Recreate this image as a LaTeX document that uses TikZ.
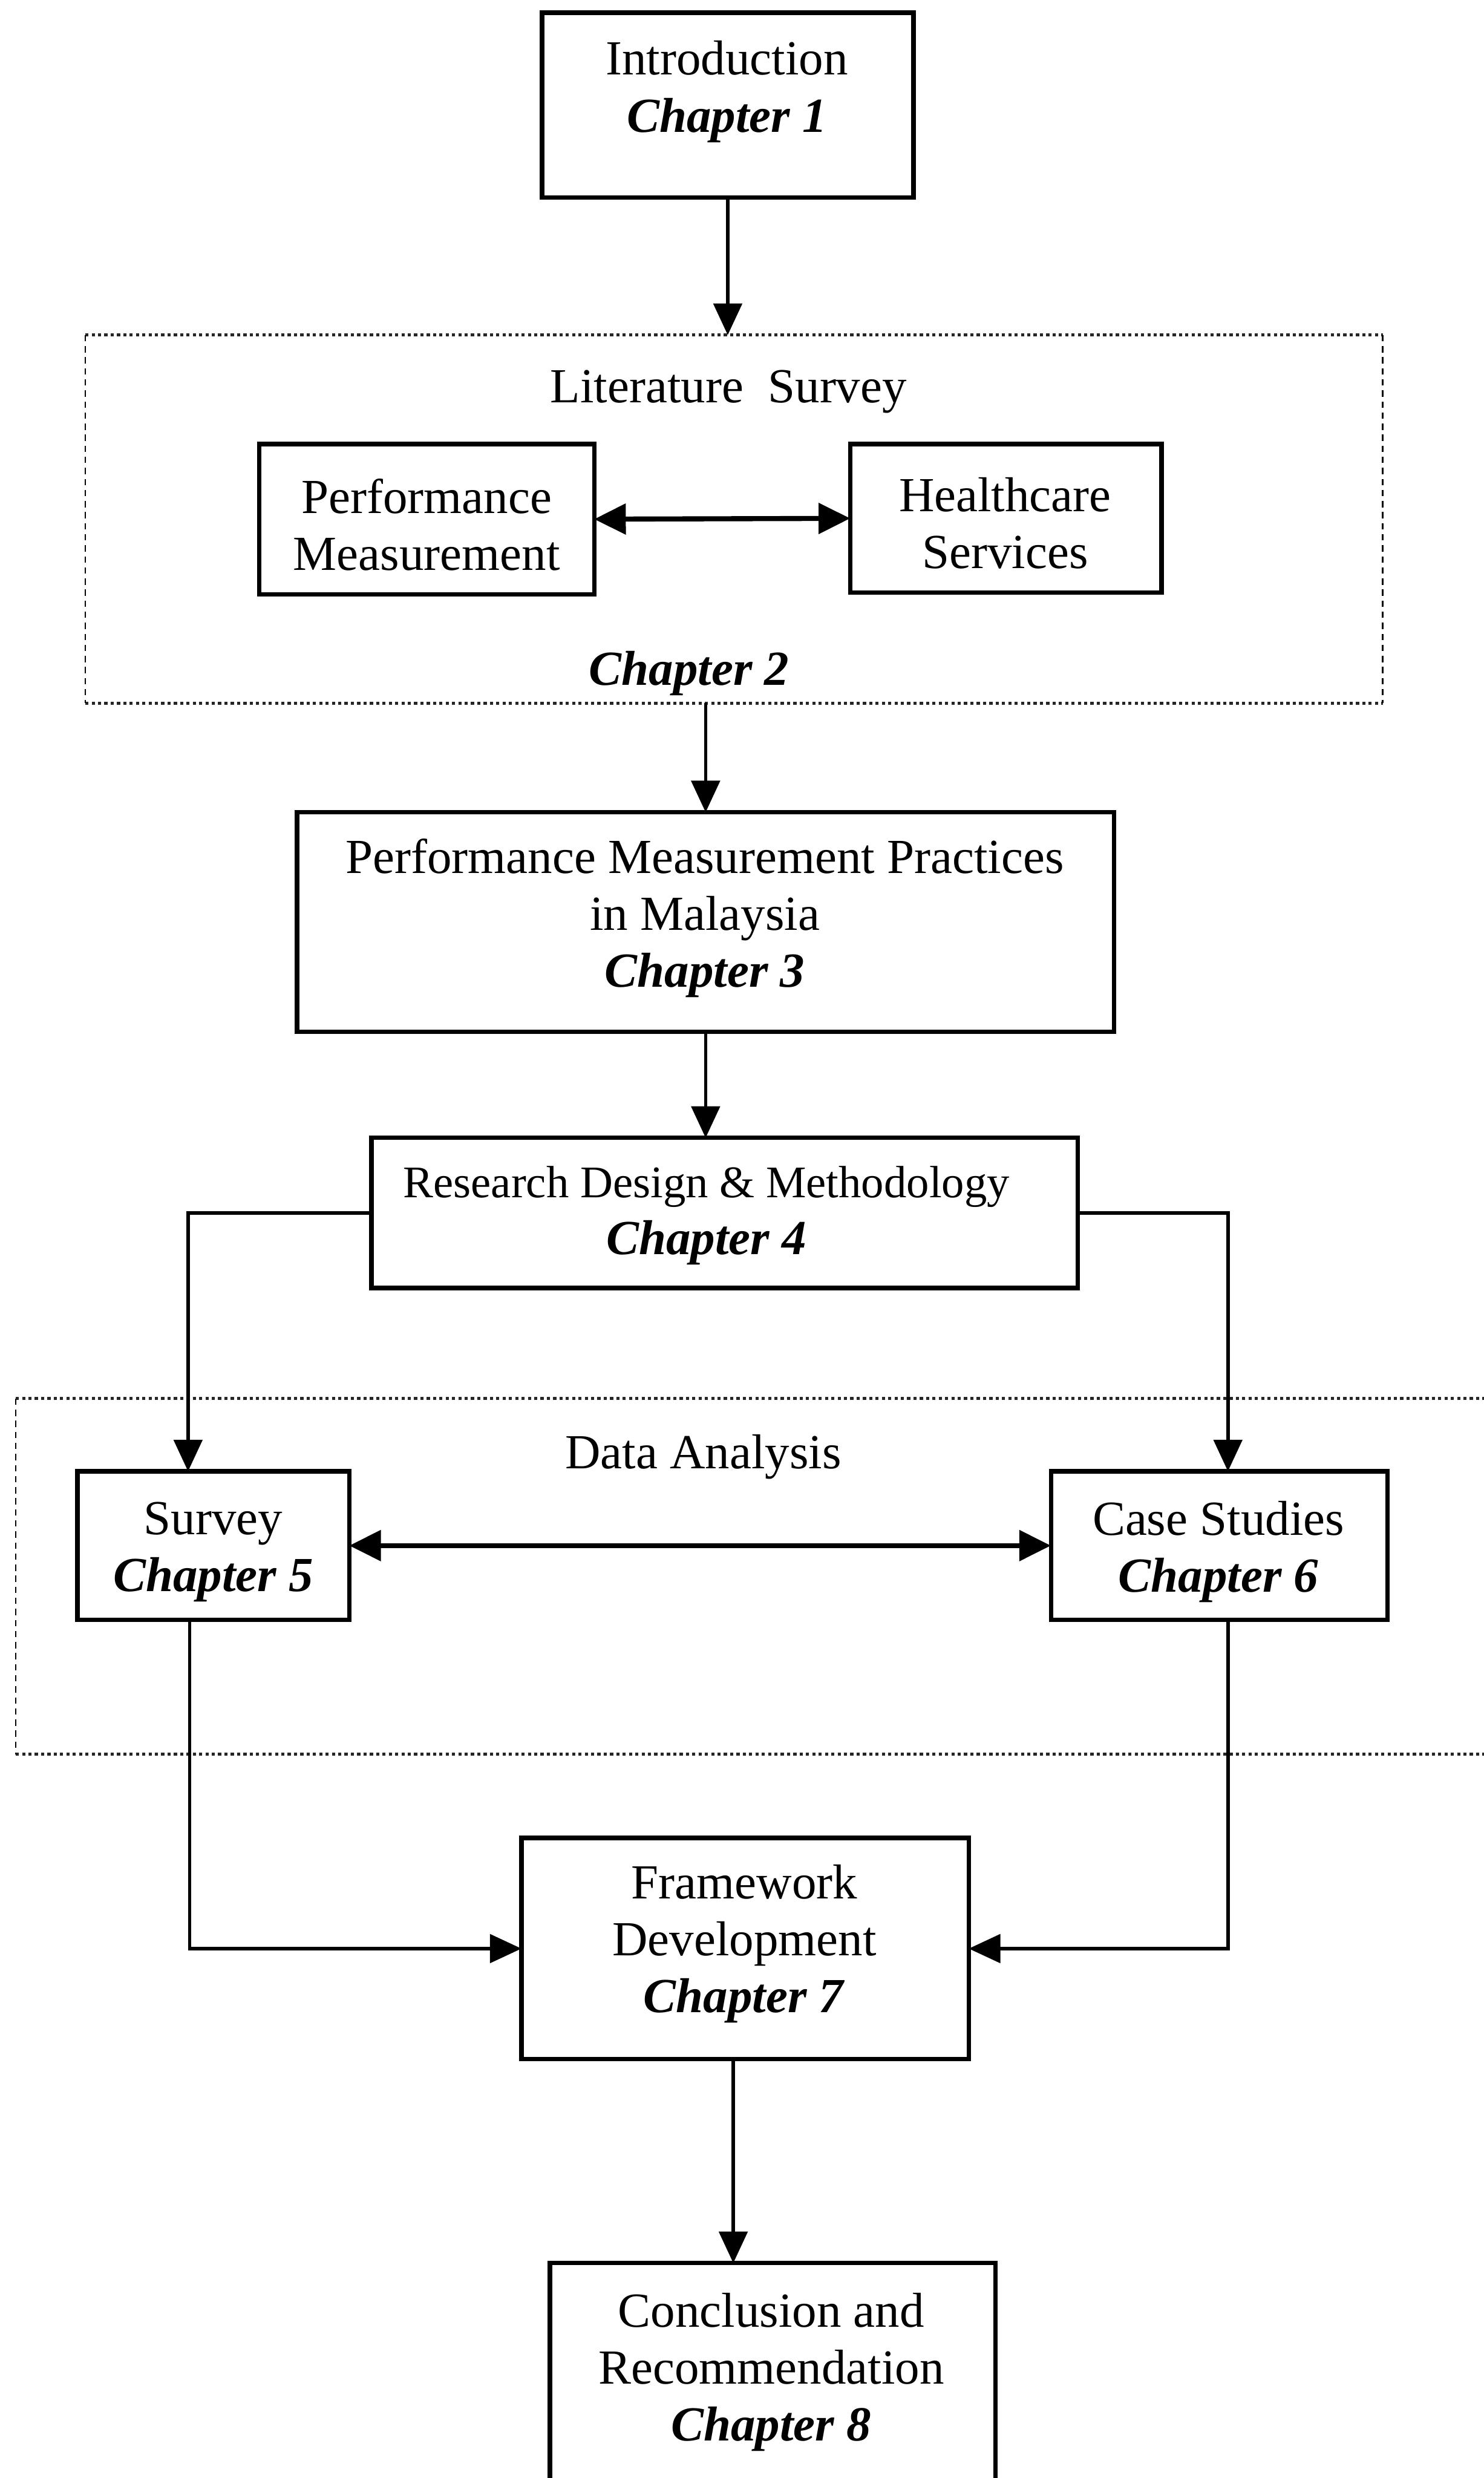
\documentclass[tikz,border=0pt]{standalone}
\usepackage{fontspec}
\setmainfont{Liberation Serif}
\usetikzlibrary{arrows.meta}

\tikzset{
  chbox/.style={draw, line width=1.4pt, rectangle, outer sep=0pt, inner sep=0pt},
  groupbox/.style={rectangle, outer sep=0pt, inner sep=0pt},
  hedge/.style={line width=1pt, densely dotted, black!85},
  vedge/.style={line width=0.5pt, dash pattern=on 2pt off 1.5pt},
  txt/.style={align=center, inner sep=0pt, font=\fontsize{15.5}{18}\selectfont},
  conn/.style={line width=1.1pt, -{Triangle[length=10pt,width=9pt]}},
  biconn/.style={line width=1.6pt, {Triangle[length=10pt,width=9.5pt]}-{Triangle[length=10pt,width=9.5pt]}}
}
\newcommand{\chap}[1]{\textbf{\textit{Chapter #1}}}

\begin{document}
\begin{tikzpicture}[x=0.5pt, y=-0.5pt]
\clip (0,0) rectangle (939,1568);
\fill[white] (0,0) rectangle (939,1568);

% chapter boxes
\node[chbox, minimum width=117.5pt, minimum height=58.5pt] (intro) at (460.5,66.5) {};
\node[chbox, minimum width=106pt, minimum height=47.5pt] (pm) at (270,328.5) {};
\node[chbox, minimum width=98.5pt, minimum height=47pt] (hs) at (636.5,328) {};
\node[chbox, minimum width=258.5pt, minimum height=69.5pt] (ch3) at (446.5,583.5) {};
\node[chbox, minimum width=223.5pt, minimum height=47.5pt] (ch4) at (458.5,767.5) {};
\node[chbox, minimum width=86pt, minimum height=47pt] (survey) at (135,978) {};
\node[chbox, minimum width=106.5pt, minimum height=47pt] (case) at (771.5,978) {};
\node[chbox, minimum width=141.5pt, minimum height=70pt] (ch7) at (471.5,1233) {};
\node[chbox, minimum width=141pt, minimum height=84pt] (ch8) at (489,1516) {};

% grouping frames
\node[groupbox, minimum width=410.5pt, minimum height=116.5pt] (lit) at (464.5,328.5) {};
\node[groupbox, minimum width=470pt, minimum height=112.5pt] (da) at (480,997.5) {};
\foreach \g in {lit,da}{
  \draw[hedge] (\g.north west) -- (\g.north east);
  \draw[hedge] (\g.south west) -- (\g.south east);
  \draw[vedge] (\g.north west) -- (\g.south west);
  \draw[vedge] (\g.north east) -- (\g.south east);
}

% texts
\node[txt] (tintro) at (460,58) {Introduction\\ \chap{1}};
\node[txt] (tlit) at (461,248) {Literature\ \ Survey};
\node[txt] (tch2) at (436,426) {\chap{2}};
\node[txt] (tpm) at (270,332) {Performance\\Measurement};
\node[txt] (ths) at (636,331) {Healthcare\\Services};
\node[txt] (tch3) at (446,581) {Performance Measurement Practices\\in Malaysia\\ \chap{3}};
\node[txt] (tch4) at (447,769) {{\fontsize{14.3}{18}\selectfont Research Design \& Methodology}\\ \chap{4}};
\node[txt] (tda) at (445,922) {Data Analysis};
\node[txt] (tsurvey) at (135,982) {Survey\\ \chap{5}};
\node[txt] (tcase) at (771,982) {Case Studies\\ \chap{6}};
\node[txt] (tch7) at (471,1230) {Framework\\Development\\ \chap{7}};
\node[txt] (tch8) at (488,1501) {Conclusion and\\Recommendation\\ \chap{8}};

% connectors
\draw[conn] (intro.south) -- (intro.south |- lit.north);
\draw[biconn] (pm.east) -- (hs.west);
\draw[conn] (ch3.north |- lit.south) -- (ch3.north);
\draw[conn] ([xshift=-6pt]ch4.north |- ch3.south) -- ([xshift=-6pt]ch4.north);
\draw[conn] (ch4.west) -| ([xshift=-8pt]survey.north);
\draw[conn] (ch4.east) -| ([xshift=2.75pt]case.north);
\draw[biconn] (survey.east) -- (case.west);
\draw[conn] ([xshift=-7.5pt]survey.south) |- (ch7.west);
\draw[conn] ([xshift=2.75pt]case.south) |- (ch7.east);
\draw[conn] ([xshift=-3.75pt]ch7.south) -- ([xshift=-3.75pt]ch7.south |- ch8.north);
\end{tikzpicture}
\end{document}
